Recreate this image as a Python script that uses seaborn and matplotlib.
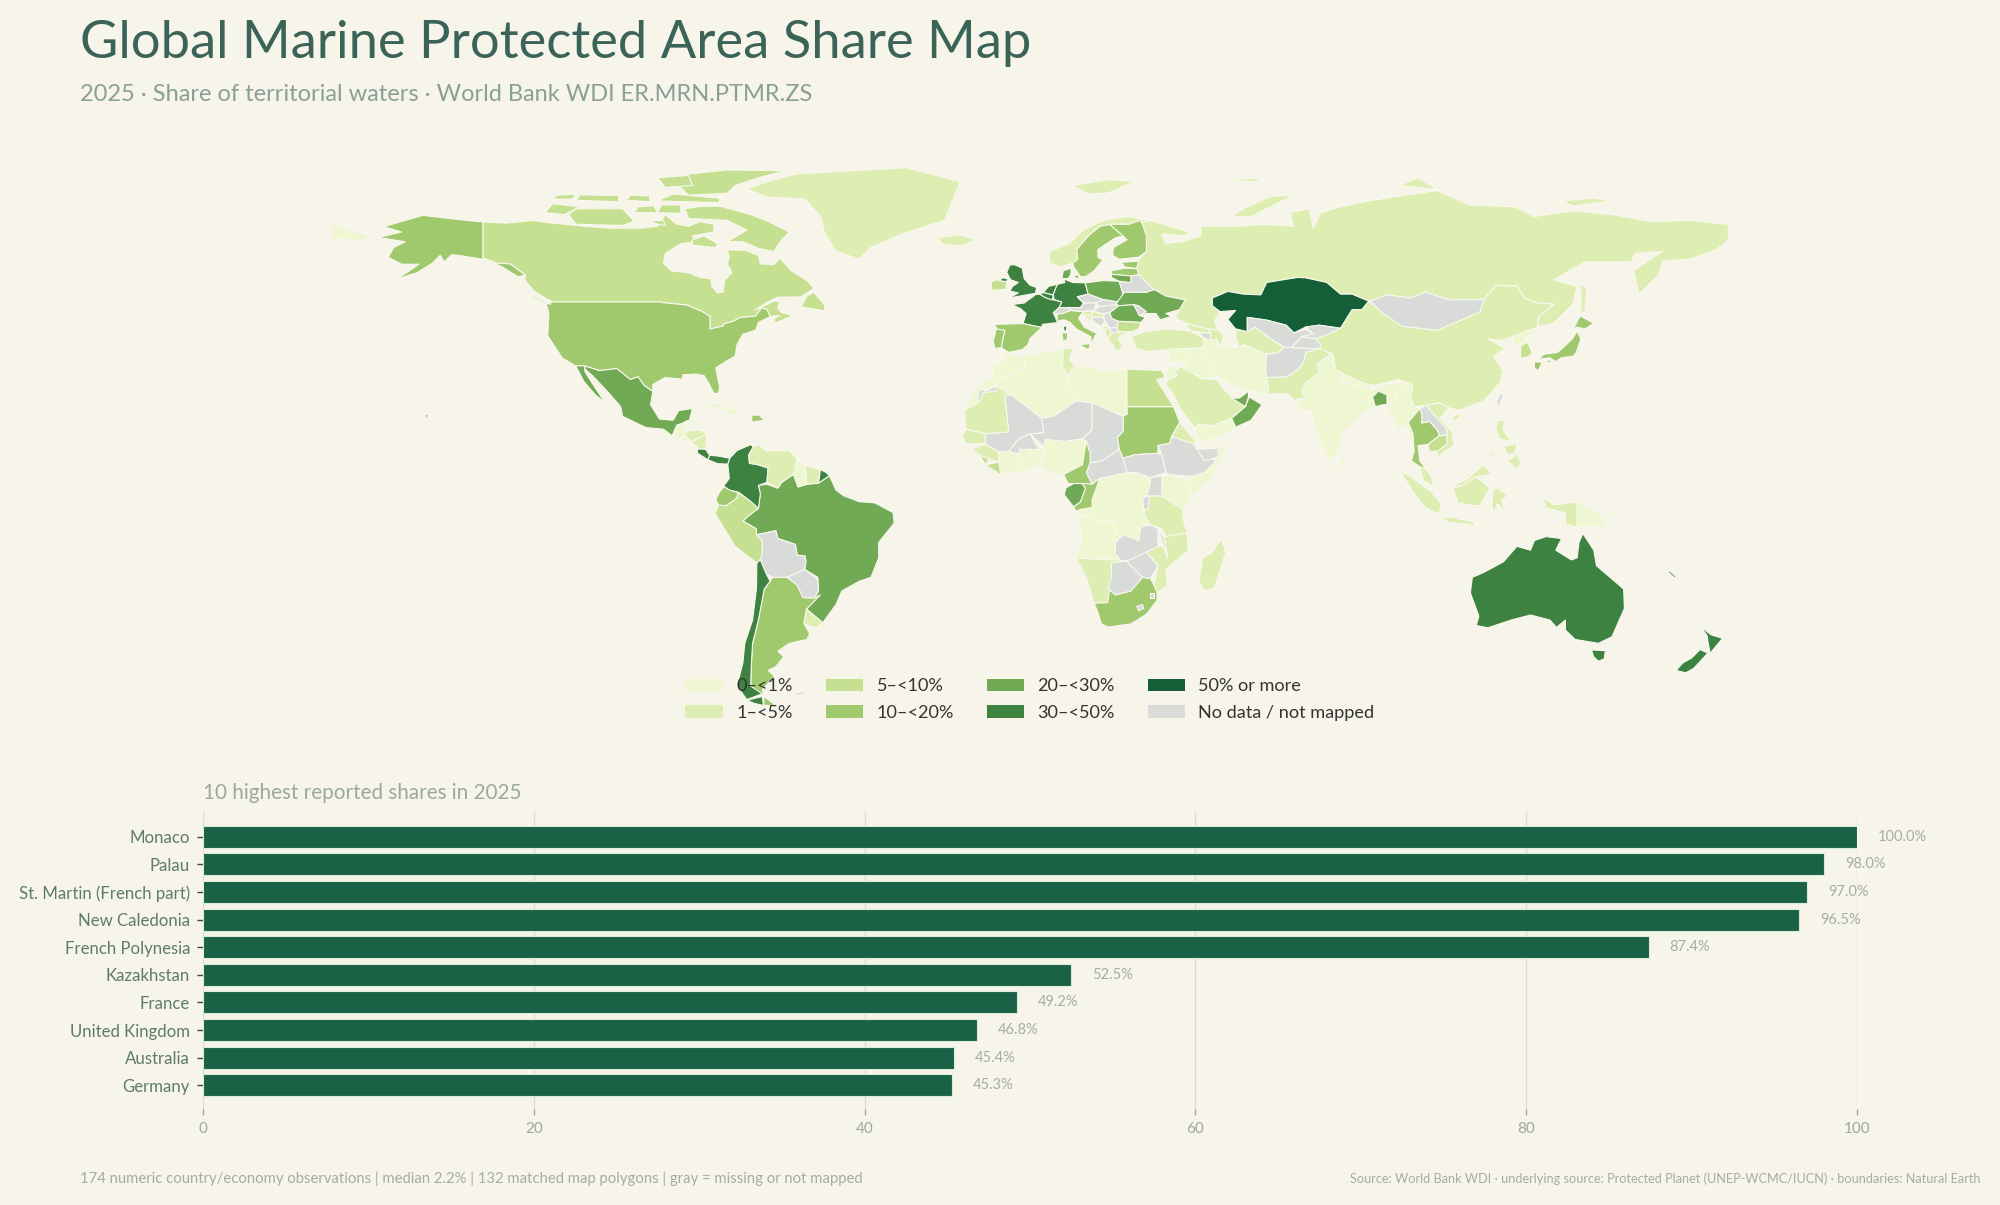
import matplotlib
matplotlib.use("Agg")
import matplotlib.pyplot as plt
from matplotlib.patches import Patch
import seaborn as sns
import pandas as pd

FONT = "Lato"
BG = "#f7f5ea"

# ------------------ bar data ------------------
top_countries = ["Monaco", "Palau", "St. Martin (French part)", "New Caledonia", "French Polynesia",
                 "Kazakhstan", "France", "United Kingdom", "Australia", "Germany"]
top_values = [100.0, 98.0, 97.0, 96.5, 87.4, 52.5, 49.2, 46.8, 45.4, 45.3]
x_ticks = [0, 20, 40, 60, 80, 100]

# ------------------ legend ------------------
bin_labels = ["0–<1%", "1–<5%", "5–<10%", "10–<20%", "20–<30%", "30–<50%", "50% or more", "No data / not mapped"]
bin_colors = ["#eef6d2", "#deeeb3", "#c6e091", "#a0c96e", "#71aa55", "#3d8240", "#145f37", "#d9dbd9"]

# ------------------ map outlines (lon, lat), grouped by share class ------------------
shapes_0_1 = {
 "Morocco": [[(-5.9,35.8),(-2,35),(-1.2,32.5),(-5,30),(-8.7,28.7),(-8.7,27.7),(-12,26),(-13,23.3),(-17,21),(-16,23.5),(-13,27.7),(-9.8,29.5),(-9.5,32.5),(-7,33.8)]],
 "Algeria": [[(-2,35),(8.6,37),(8.3,33),(9.5,30),(12,23.5),(6,19.5),(3,19),(-4.8,25),(-8.7,27.3),(-8.7,28.7),(-5,30),(-1.2,32.5)]],
 "Libya": [[(11.5,32.5),(15,32.2),(20,31),(25,31.7),(25,20),(24,19.5),(16,23),(12,23.5),(9.5,30)]],
 "Nigeria": [[(2.7,6.4),(3.6,11.7),(4,13.5),(9,13),(13.5,13.7),(14.5,13),(13.5,7),(8.7,4.5),(6,4.3)]],
 "Ghana": [[(-2.8,11),(0,11),(1,6),(-3,5)]],
 "Cote": [[(-8,10.3),(-5.5,10.5),(-2.8,9.8),(-3,5),(-7.5,4.4),(-8,7.7)]],
 "TogoBenin": [[(0,11),(2.3,11),(3.6,11.7),(2.7,6.4),(1,6)]],
 "DRC": [[(12.2,-6),(13,-4.5),(16,-4),(16,-2),(18,3.5),(25,5),(27.5,5),(31,3.7),(31,2),(30,-1),(29.3,-4.3),(29.5,-6),(31,-8.5),(28.5,-9),(28,-12.5),(22,-11),(21.8,-7.3),(17.5,-8),(16,-6)]],
 "Angola": [[(11.8,-17),(13.5,-12),(12.2,-6),(16,-6),(17.5,-8),(21.8,-7.3),(22,-11),(24,-11),(22,-13),(22,-16),(23.4,-17.6),(18.5,-17.4)]],
 "Kenya": [[(34,4.2),(36,4.5),(41,3),(41.5,-1.7),(39.5,-4.5),(34,-1)]],
 "Somalia": [[(43,11),(51,12),(47,4),(41.5,-1.7),(41,3),(42,4),(45,5),(48,8)]],
 "Iran": [[(44.5,39.5),(48,39.5),(49,37.5),(53.8,37.3),(55,38),(61,35.5),(60.7,31.5),(61,29.5),(61.6,25.2),(57,26),(54,26.6),(51,28),(48.5,30),(46.5,33),(45,36)]],
 "Iraq": [[(42,37),(45,37),(46.5,33),(48.5,30),(47.5,29.5),(44.5,29.2),(39,32.3),(41,34.5)]],
 "Syria": [[(36,36.8),(42,37),(41,34.5),(38.8,33.4),(36,33),(35.8,35)]],
 "Jordan": [[(35,29.5),(35.5,32.3),(39,32.3),(37,31),(38,30),(36,29.2)]],
 "Yemen": [[(42.5,16.5),(43.5,12.7),(45,12.8),(52,15.5),(53,16.7),(52,19),(47,17),(43.5,17.5)]],
 "India": [[(68,23.7),(71,24.2),(70,26),(71,28),(74.5,31),(74,33),(77.5,35.5),(78,35.5),(78.8,31.5),(81,30.3),(80,28.7),(88,26.4),(89.8,26.8),(92,27.8),(97,28.3),(95,26),(94,24),(93,22),(92,24.5),(89.8,26),(88.3,24.5),(89,22),(87,21.3),(84,18.5),(80.3,15),(80,11),(77.5,8),(75,12),(73,18),(72.7,21),(70.5,20.8),(69,22.3)]],
 "Nepal": [[(80,28.7),(81,30.3),(86,28),(88,27.5),(88,26.4)]],
 "SriLanka": [[(80,9.7),(81.8,7.5),(80.5,6),(79.8,7.5)]],
 "Myanmar": [[(92.3,21),(92,24.5),(93,22),(94,24),(95,26),(97,28.3),(98.7,27.5),(98,24.5),(99,22),(100.5,21.5),(97.5,18),(98.7,15),(99,10.5),(97.8,15),(97,17),(94.5,16),(94,19)]],
 "NKorea": [[(124.3,40),(130.7,42.3),(129.7,41),(127.5,39.7),(128.3,38.6),(126.7,38),(125,38)]],
 "PNG": [[(141,-2.6),(145,-4.5),(147.5,-6),(147.8,-8),(150.7,-10.5),(146,-8.5),(143,-9.2),(141,-9.1)]],
 "Islands": [[(177.3,-18),(178.7,-17.5),(178.5,-18.3)],[(159.5,-8.2),(161,-9.2),(160,-9)],[(148,-5.5),(152,-4.2),(151,-5.8)]],
 "Guatemala": [[(-92.2,14.5),(-91,17.2),(-89.2,17.8),(-89,15.9),(-88.3,15.7),(-89.5,14.2),(-90.5,13.8)]],
 "Belize": [[(-89.2,17.9),(-88.3,18.4),(-88.3,16),(-89.1,15.9)]],
 "ElSalvador": [[(-90,13.7),(-88.7,13.2),(-87.7,13.2),(-88.5,14.2),(-89.5,14.4)]],
 "Guyana": [[(-60.7,5.2),(-61,4.5),(-59.8,1.3),(-57.5,2),(-58,6.8),(-60,8.5)]],
 "Cuba": [[(-85,21.9),(-82,23.1),(-77,21.7),(-74.2,20.2),(-77.7,19.9),(-78,21),(-82,22)]],
 "Chukotka_west": [[(-180,68.9),(-175,67.4),(-170,66),(-172.5,64.4),(-178,65.5),(-180,65)]],
}
shapes_1_5 = {
 "Russia": [[(28,60),(30,62),(29,66),(29,69.5),(31,70),(41,67),(40,66),(34,66.5),(35,64),(40,64.7),(44,66),(44,68.5),(54,68.5),(60,69),(68,68.5),(67,72),(72,73),(73,68),(75,72),(80,73.5),(87,75),(100,77),(105,77.7),(113,74),(125,73.5),(130,71),(140,72.5),(150,71.5),(160,69.7),(170,70),(180,69),(180,65),(177,62.5),(170,60),(163,59.5),(162,56),(157,51),(155.5,57),(163,62),(156,61.5),(155,59.3),(143,59.3),(135,54.7),(141,53),(140,48.5),(135,43.5),(131,42.7),(130.7,42.3),(131,45),(135,48.4),(130.5,48.8),(127.5,50),(125.5,53),(120,53.3),(117,49.6),(108,49.5),(102,51.5),(98,50),(92,50.8),(87.5,49.2),(83,51),(80,51),(76.5,54),(71,55.2),(69,55.3),(61,54),(59.5,50.8),(55,51),(51,51.7),(47,50),(47,48),(49,46.5),(47.5,44),(48.5,41.8),(46,42),(40,43.5),(37.5,45),(38.5,47),(40,49.5),(35,50.5),(32,52.2),(31,53),(28,56),(27.5,57.5)],
            [(142,54),(143.5,52),(143,46),(142,46.7),(142,50)],[(52,71),(57,71),(68,76.5),(62,76.2),(55,73)],[(95,79),(105,78),(100,81)],[(50,80.5),(60,81),(58,80)],[(137,75),(145,75.7),(150,75),(140,73.7)]],
 "China": [[(73.5,39.5),(76,40.3),(80,42.2),(83,47),(85.5,47),(87.3,49.2),(91,46),(96,42.7),(105,41.7),(111.5,44.5),(116,46.5),(117,49.6),(120,53.3),(125.5,53),(127.5,50),(130.5,48.8),(135,48.4),(131,45),(130.7,42.3),(128,41.5),(124.3,40),(121.5,39),(118,39.5),(122.5,37),(119.5,35),(122,31),(121,28),(117,23.5),(110.5,21),(108,21.7),(105.5,23),(102,22.3),(99,22),(98,24.5),(98.7,27.5),(95,29),(89,27.5),(86,28),(81,30.3),(78.8,31.5),(78,35.5),(74.7,37)],
           [(108.7,19.3),(110.5,20.1),(111,19.6),(109.6,18.2)]],
 "Greenland": [[(-73,78.2),(-68,76),(-58,75.5),(-54,71),(-53,67),(-50,62),(-44,60),(-41,63),(-33,66.5),(-22,70),(-20,75),(-18,80),(-32,83.6),(-60,82),(-66,80.5)]],
 "Iceland": [[(-24,65.5),(-18,66.3),(-14,65),(-18,63.4),(-22.5,63.9)]],
 "Svalbard": [[(11,79),(20,80.5),(27,80),(20,77),(15,76.8)]],
 "Norway": [[(5,59),(5,62),(10,64),(14,67.7),(19,70),(25,71),(31,70),(29,69.5),(25.5,69),(21,69),(18,68.5),(15,66),(12,62.5),(12.3,60),(11,59),(8,58)]],
 "Turkey": [[(26.2,40),(29,41.2),(35,42),(41.5,41.5),(44.7,39.7),(44.8,37.2),(36,36.7),(30.5,36.2),(27.3,37)]],
 "Greece": [[(20,39.7),(21,38.3),(22,36.5),(23.2,36.5),(24,38),(22.7,39.5),(23.7,40.5),(26,41.3),(23,41.3),(21,41)],[(23.5,35.5),(26.2,35.2),(24.7,34.9)]],
 "Cyprus": [[(32.3,35),(34.5,35.7),(33.7,34.7)]],
 "Croatia": [[(13.6,45.2),(16.5,46.5),(19,45.8),(19,45),(15.8,45),(16.5,43.8),(18.5,42.5),(15,44.5)]],
 "Slovenia": [[(13.7,46.5),(16.5,46.7),(15.5,45.4),(13.6,45.5)]],
 "Albania": [[(19.4,42),(20.5,42.3),(21,40.7),(20,39.7),(19.4,40.5)]],
 "Montenegro": [[(18.5,42.5),(20,43),(20,42.2),(19.3,41.9)]],
 "Georgia": [[(40,43.5),(46,42),(46.5,41),(41.5,41.5)]],
 "Azerbaijan": [[(46,42),(48.5,41.8),(50,40.3),(49,37.5),(48,39.5),(46.5,39),(45,41)]],
 "Turkmenistan": [[(53,42),(56,41.3),(58,42.5),(62,39.5),(65.5,37.3),(64,36),(61,35.5),(55,38),(53.8,37.3),(53,40)]],
 "Pakistan": [[(61,29.5),(66.3,29.7),(69,31.5),(70.5,33.5),(71,36),(74.7,37),(77.5,35.5),(74,33),(74.5,31),(71,28),(70,26),(71,24.2),(68,23.7),(66.5,25.3),(61.6,25.2)]],
 "Saudi": [[(34.8,28),(37,25),(39,21),(42.5,16.5),(43.5,17.5),(47,17),(52,19),(55.5,22),(52,24.5),(50,26.5),(48,29),(44.5,29.2),(39,32.3),(37,31),(38,30),(36,29.2)]],
 "Vietnam": [[(102,22.3),(105.5,23),(108,21.7),(105.7,19),(108.8,15.5),(109.3,12),(106.7,10.3),(105,8.7),(105,10.5),(107.5,12.4),(107.5,14.7),(107.5,16),(105,19)]],
 "Malaysia": [[(100.5,6.5),(102,6),(103.5,4),(104,1.5),(101.5,2.8)],[(109,1.5),(113,3.5),(116.7,7),(119,5),(117.5,4.2),(115,4),(111,1.5)]],
 "Indonesia": [[(95.3,5.6),(98,4),(103.5,0),(106,-3),(105.5,-5.8),(102,-4),(99,-0.5)],[(105.5,-6.5),(108.5,-6.5),(114.5,-7.7),(114.5,-8.6),(108,-7.8)],[(109,1),(111,1.5),(115,4),(118.5,1),(116,-3.5),(114,-3.5),(110.3,-2.8)],[(119.5,0.8),(125,1.5),(121,0.5),(123.3,-1),(121.5,-2),(122.5,-5),(120.5,-3),(119.5,-5.5),(119,-3)],[(131,-0.8),(135,-3.3),(141,-2.6),(141,-9.1),(138,-8.3),(138,-5.5),(133,-4),(132.7,-2.8)]],
 "Philippines": [[(120.5,18.5),(122.2,18.4),(122,16),(124,13),(121,13.7),(120,16)],[(122,7),(125.5,9.8),(126.5,7.5),(125.5,5.8),(123.5,7.6)],[(122,11.8),(125.5,12.5),(125,10),(123,9.5)],[(117.2,8.4),(119.5,11),(119.5,10),(118,8.5)]],
 "Mauritania": [[(-17,21),(-13,23.3),(-12,26),(-8.7,27.3),(-4.8,25),(-6.5,25),(-5.5,15.5),(-11.5,15),(-16.5,16.2)]],
 "Senegal": [[(-16.5,16.2),(-11.5,15),(-11.5,12.5),(-16.7,12.4),(-17.5,14.7)]],
 "Guinea": [[(-15,11),(-11.5,12.3),(-8,10.3),(-8,7.7),(-10.5,8.5),(-13,9.5)]],
 "Tunisia": [[(8.6,37),(11,37),(10.2,34),(11.5,32.5),(9.5,30),(8.3,33)]],
 "Eritrea": [[(36.5,14.3),(38.6,18),(43,12.7),(42,12.5)]],
 "Tanzania": [[(30,-1),(34,-1),(39.5,-4.5),(39.5,-7),(40.5,-10.5),(35,-11.5),(34,-9.5),(31,-8.5),(29.5,-6)]],
 "Mozambique": [[(35,-11.5),(40.5,-10.5),(40.8,-15),(35,-20),(35.5,-24),(32.8,-26),(32,-24),(33,-19),(30,-15.5),(33,-14),(34.5,-14),(35.5,-17),(35,-14.5),(34.5,-11.5)]],
 "Namibia": [[(11.8,-17),(18.5,-17.4),(23.4,-17.6),(25,-17.8),(21,-18.3),(21,-22),(20,-28.5),(16.5,-28.6),(14.5,-22)]],
 "Madagascar": [[(49.3,-12),(50.5,-15.5),(47.5,-24.8),(45,-25.5),(43.5,-23),(44.5,-17),(47,-15.5)]],
 "Honduras": [[(-89.2,14.4),(-88.3,15.7),(-85,16),(-83.2,15),(-85,14),(-87.3,13)]],
 "Nicaragua": [[(-87.3,13),(-85,14),(-83.2,15),(-83.6,11),(-85.6,11.2)]],
 "Venezuela": [[(-71.3,11.7),(-72.5,9.5),(-72.3,7.4),(-70,7),(-67.5,6.2),(-67.8,2.5),(-65,1),(-64,2.5),(-61,4.5),(-60.7,5.2),(-60,8.5),(-62,10.7),(-68,10.6),(-70,12.2)]],
 "Suriname": [[(-58,6.8),(-57.5,2),(-54.5,2.3),(-54,5.8)]],
 "Uruguay": [[(-57.6,-30.2),(-53.4,-33.7),(-55,-35),(-58.3,-34)]],
}
shapes_5_10 = {
 "Canada": [[(-141,69.6),(-135,69.3),(-128,70),(-125,69.5),(-115,68.5),(-108,68),(-100,68),(-96,68.5),(-94,71.5),(-91,69),(-88,68.5),(-85,69.7),(-81.5,69),(-81.5,67),(-87,66),(-86,64.5),(-90,64),(-94,61.5),(-94.5,59),(-92.5,57),(-88,56.5),(-85,55.3),(-82.3,55),(-82,53),(-80.5,51.3),(-79,51.5),(-78.8,54.5),(-76.8,56.5),(-78,58.8),(-77.5,60.5),(-78,62.4),(-73.5,62.3),(-70,61),(-69.5,58.8),(-66,58.6),(-64.5,60.3),(-61.5,57),(-57.5,54.5),(-55.7,52.5),(-59,50.3),(-65,50.2),(-68,48.8),(-71,46.8),(-66,49.2),(-64.5,49),(-65,47.5),(-64,46.2),(-61,45.5),(-65.5,43.6),(-66.2,44.5),(-64.5,45.5),(-67,45.2),(-67.8,47.1),(-69.2,47.4),(-70.8,45.3),(-74.7,45),(-76.5,44),(-79,43.3),(-79,42.8),(-82.5,42),(-82.5,45.3),(-84.5,46.5),(-88.5,48.2),(-94.6,48.8),(-95.2,49),(-123,49),(-125,50),(-128,52),(-130.3,54.7),(-130,55.9),(-134,58.8),(-137.5,59),(-141,60.3)],
            [(-85,73.6),(-80,73.7),(-72,71.5),(-68,70),(-62,67),(-64,65),(-66,62),(-70,62.8),(-74,64.5),(-78,64.5),(-73,67.5),(-78,70),(-88,70.5),(-89,73)],
            [(-119,71.5),(-117,69),(-105,68.7),(-102,69.8),(-105,73),(-117,73)],[(-125,72),(-120,71.5),(-116,73.5),(-123,74.3)],
            [(-92,81.5),(-78,83),(-63,82.8),(-70,81),(-76,79),(-78,77),(-88,76.5),(-90,78.5)],[(-96,81),(-88,81.6),(-87,79),(-94,78.5)],
            [(-96,75),(-80,74.6),(-80,75.7),(-92,76.8)],[(-117,75.2),(-106,74.8),(-106,76.4),(-116,76.6)],[(-123,75.5),(-118,75.5),(-117,76.8),(-122,76.5)],[(-104,75.2),(-98,74.8),(-98,76.3),(-103,76.5)],
            [(-87,63.6),(-81,63),(-80.5,64),(-84,66),(-87,65)],[(-96,69),(-94,68.7),(-94.5,70),(-98,70)],[(-96,72),(-90,71.8),(-90,74),(-95,74)],
            [(-59,47.7),(-53,46.7),(-52.8,48),(-55.7,51.5),(-57.5,50.5)],[(-128.3,50.7),(-123.5,48.4),(-125,48.7),(-128,50)],[(-102,72),(-96,72),(-97,73.8),(-101,73.5)]],
 "Egypt": [[(25,31.7),(34,31.3),(34.9,29.5),(32.6,29),(35.8,23.9),(37,22),(25,22)]],
 "Ireland": [[(-10,52),(-6.2,52.2),(-6,54.2),(-8,54.5),(-7,55.2),(-10,54.2)]],
 "Bulgaria": [[(22.7,44),(28.6,43.7),(28,42),(26,41.3),(23,41.3),(22.4,42.3)]],
 "Peru": [[(-80.2,-3.4),(-78.3,-3.5),(-75.5,-1.5),(-75.3,-0.1),(-72,-2.4),(-70,-4.2),(-73,-6.5),(-74,-7.5),(-70.5,-9.5),(-70.5,-11),(-69,-12.5),(-69,-16),(-69.5,-17.5),(-70.4,-18.3),(-76,-14),(-81.2,-5.5)]],
 "Cambodia": [[(102.5,12.2),(103,10.5),(105,10.5),(107.5,12.4),(107.5,14.7),(105.5,14.5)]],
 "SKorea": [[(126.5,37.7),(128.3,38.6),(129.4,36),(128.5,34.8),(126.4,34.5)]],
 "WestAfricaSmall": [[(-13,9.5),(-10.5,8.5),(-11.5,7)],[(-11.5,7),(-8,7.7),(-7.5,4.4)]],
}
shapes_10_20 = {
 "USA": [[(-124.7,48.4),(-123,49),(-95.2,49),(-94.6,48.8),(-88.5,48.2),(-84.5,46.5),(-82.5,45.3),(-82.5,42),(-79,42.8),(-79,43.3),(-76.5,44),(-74.7,45),(-70.8,45.3),(-69.2,47.4),(-67.8,47.1),(-67,45.2),(-70,43.7),(-70.7,41.7),(-74,40.7),(-75.5,38),(-76,35),(-78,33.9),(-81,32),(-80,27),(-80.3,25.3),(-81.5,25.5),(-82.8,28),(-84,30),(-86,30.4),(-89.5,30.2),(-89.5,29.1),(-94,29.5),(-97.2,27.7),(-97.2,25.9),(-99.5,27.5),(-101,29.7),(-103,29),(-106.5,31.8),(-111,31.3),(-114.8,32.5),(-117.1,32.5),(-120.5,34.5),(-122.5,37.5),(-124.3,40.3),(-124,46.2)],
         [(-141,69.6),(-141,60.3),(-137.5,59),(-134,58.8),(-130,55.9),(-132,55.5),(-136,58),(-140,59.8),(-146,60.8),(-149,61.2),(-151,59.3),(-152,61),(-154,59),(-158,56.5),(-163.5,54.8),(-161,56.3),(-157.5,58.7),(-162,58.7),(-165.4,60.5),(-164,63),(-161,64.5),(-168,65.6),(-162,67),(-166.5,68.4),(-156.5,71.3),(-148,70.3)],
         [(-156,19.7),(-155.5,20.2),(-155,19.6),(-155.6,19)]],
 "DominicanRep": [[(-71.7,18),(-68.4,18.5),(-69.8,19.8),(-71.7,19.8)]],
 "Ecuador": [[(-78.9,1.4),(-77.5,0.5),(-75.3,-0.1),(-75.5,-1.5),(-78.3,-3.5),(-80.2,-3.4),(-81,-2),(-80,0)]],
 "Argentina": [[(-66.3,-22),(-62.6,-22),(-60,-24),(-58.5,-27.2),(-55.5,-27.3),(-54,-26.5),(-57.6,-30.2),(-58.2,-34),(-56.8,-36.5),(-57.5,-38),(-62,-39),(-65,-41),(-63.5,-42.5),(-65.5,-45),(-67.5,-46),(-65.8,-47.5),(-69,-51),(-68.5,-52.3),(-72,-52),(-72,-50),(-71.8,-44),(-71.5,-39),(-70,-33),(-68.5,-25),(-67,-23)],[(-68.6,-52.7),(-65.5,-55),(-68.6,-55)]],
 "Spain": [[(-9.2,43.2),(-1.8,43.4),(3,42.4),(0,39.5),(-0.5,38),(-2,36.7),(-5.5,36),(-7.4,37.2),(-7,39.5),(-6.5,41.5),(-8.5,42)]],
 "Portugal": [[(-8.7,42),(-6.5,41.7),(-7,39.5),(-7.4,37.2),(-9,37),(-9.5,38.8)]],
 "Italy": [[(7,44),(7,45.9),(10.5,46.8),(13.7,46.5),(12.5,44.8),(14,42.5),(18.5,40.2),(16.9,40.5),(15.8,38),(15.7,40),(12,42),(10.2,43.8),(8.8,44.4)],[(12.5,38),(15.6,38.2),(15.1,36.7)],[(8.2,41),(9.7,41),(9.6,39.2),(8.5,39)]],
 "Sweden": [[(11,59),(12.3,60),(12,62.5),(15,66),(18,68.5),(20.5,69),(24,66),(22,65.5),(17.5,62.5),(17.5,60.5),(18.8,59.8),(16.5,57),(14.3,55.5),(13,55.5),(11.3,58)]],
 "Finland": [[(20.5,69),(25.5,69),(28.5,70),(29,69),(30,66),(30,62),(28,60.5),(23,60),(21.3,61),(21.5,63),(25,65),(24,66)]],
 "Estonia": [[(23.5,59.2),(28,59.5),(27.5,57.6),(24.5,58)]],
 "Latvia": [[(21,57),(24.3,57.7),(27.5,57.6),(28,56),(26,55.7),(21,56.1)]],
 "Japan": [[(131,34.2),(132.5,35.5),(136,36),(137.5,37.3),(139.8,39.5),(141,41.4),(142,39.5),(140.8,36),(140,35),(137,34.6),(135.5,33.6),(134,34.6)],[(140,42),(141.8,45.4),(145.3,43.5),(143,42),(141,42.5)],[(130,33.5),(132,33.5),(131,31.2),(130,32)],[(132.5,33.5),(134.5,34.2),(134,33.3)]],
 "Thailand": [[(100.5,21.5),(97.5,18),(98.7,15),(99,10.5),(98.3,8),(100.5,6.5),(102,6),(100.5,8),(100,12),(102.5,12.2),(105.5,14.5),(105,16),(103,18.2),(101,17.8),(101,20)]],
 "Sudan": [[(25,22),(37,22),(38.6,18),(36.5,14.3),(36,12.5),(33,12),(33,10),(27,9.6),(24,8.7),(23,11),(22.5,14),(24,15.7),(24,20),(25,20)]],
 "Cameroon": [[(8.7,4.5),(13.5,7),(14.5,13),(15.5,10),(15.5,7.5),(14.5,5),(16,2),(9.8,2.2)]],
 "Congo": [[(13.3,2.2),(16,2),(18,3.5),(16,-2),(16,-4),(13,-4.5),(11.9,-5),(11.2,-3.8),(13,-2.5),(14.3,1)]],
 "SouthAfrica": [[(16.5,-28.6),(20,-28.5),(20,-24.7),(22,-26.5),(26,-25.5),(29,-22),(31,-22.3),(32,-24),(32.8,-26),(32.7,-28),(30,-31.5),(26,-34),(20,-34.8),(18.4,-34),(17.5,-31)]],
}
shapes_20_30 = {
 "Mexico": [[(-114.8,32.5),(-111,31.3),(-106.5,31.8),(-103,29),(-101,29.7),(-99.5,27.5),(-97.2,25.9),(-97.8,22.5),(-95.5,18.8),(-92,18.5),(-90.5,21),(-87,21.5),(-87.8,18.5),(-89,18),(-89.2,17.8),(-91,17.2),(-92.2,14.5),(-94.5,16.2),(-99,16.6),(-105,19.5),(-105.5,22),(-109,26),(-112.8,30),(-114.7,31.7)],
            [(-117.1,32.5),(-114.8,32.5),(-114.7,31),(-112.5,27.5),(-109.5,23),(-112,25),(-115,28.5),(-116,30.5)]],
 "Brazil": [[(-51.7,4.2),(-54.5,2.3),(-57.5,2),(-59.8,1.3),(-60,5.2),(-64,2.5),(-65,1),(-67.8,2),(-70,1.7),(-69.5,-0.5),(-70,-4.2),(-73,-6.5),(-74,-7.5),(-70.5,-9.5),(-70.5,-11),(-65.5,-10),(-65,-12),(-60.5,-13.5),(-60,-16.3),(-58,-16.5),(-58,-20),(-54.7,-22),(-54.5,-25.5),(-57.6,-30.2),(-53.4,-33.7),(-50,-29),(-48.5,-25.5),(-44,-23),(-41,-22),(-39,-17),(-39,-13),(-35,-8),(-35.3,-5.3),(-40,-2.8),(-44,-2.5),(-48,-1),(-50,0.5)]],
 "Poland": [[(14.2,53.9),(19,54.5),(23,54.3),(24,51),(22.5,49),(18.8,49.6),(15,51)]],
 "Lithuania": [[(21,56.1),(26,55.7),(26,54),(23,54.3),(21,55.3)]],
 "Denmark": [[(8.2,55),(8.6,57),(10.6,57.7),(10.5,56),(9.8,55)],[(11,55.5),(12.5,56),(12.5,55)]],
 "Ukraine": [[(24,51.5),(30,51.5),(32,52.2),(35,50.5),(40,49.5),(38.5,47),(35,46),(36.5,45.2),(33.5,44.4),(32.5,46),(30,46),(28.2,45.5),(28,48),(26.5,48.2),(22.8,48),(22.2,48.5),(22.5,49)]],
 "Romania": [[(20.5,46.2),(22.8,48),(26.7,48.3),(28.2,45.5),(29.7,45),(28.6,43.7),(22.7,44),(21,44.8)]],
 "Oman": [[(55.5,22),(52,19),(53,16.7),(57,18.5),(59.8,22.5),(56.5,24.5)]],
 "UAE": [[(52,24.2),(55.5,22),(56.3,24.5),(56.3,26),(54,24.2)]],
 "Bangladesh": [[(88.3,24.5),(89.8,26),(92,25),(92,22.5),(91,22.5),(89,22)]],
 "Gabon": [[(9.3,1.1),(11.3,2.2),(13.3,2.2),(14.3,1),(13,-2.5),(11.2,-3.8),(8.8,-0.7)]],
}
shapes_30_50 = {
 "Australia": [[(114,-22),(113.5,-26),(115.7,-32),(115,-34.4),(118,-35),(124,-33),(129,-31.7),(134,-33),(135.7,-34.9),(138,-33),(138,-35.6),(140.5,-38),(146.5,-39),(150,-37.3),(153.2,-30),(153,-25),(149.5,-22),(146,-19),(145.3,-15),(142.5,-10.7),(141.5,-13),(141,-17),(139.5,-17.5),(135.5,-15),(137,-12),(133,-11.5),(130,-12.5),(129,-15),(125.5,-14),(122,-18),(117,-20.7)],
               [(144.7,-40.7),(148.3,-40.9),(148,-43),(146.5,-43.6),(145.3,-42.5)]],
 "NewZealand": [[(172.7,-34.5),(175.5,-36.8),(178.5,-37.7),(177,-39.5),(175.3,-41.6),(174.8,-39),(174.5,-37)],[(172.7,-40.6),(174.7,-41.5),(172.7,-43.7),(171,-45.5),(169,-46.6),(166.5,-46),(168.3,-44),(170.5,-42.8)]],
 "France": [[(-4.7,48.3),(-1.5,48.7),(1.5,50.9),(2.5,51),(4.2,50),(8.2,49),(7.5,47.5),(6,46.2),(7,44),(7.5,43.7),(3.2,43.2),(3,42.4),(-1.8,43.4),(-1,46),(-2.5,47.3)],[(8.6,42.5),(9.5,43),(9.4,41.5),(8.8,41.5)],[(-54,5.8),(-54.5,2.3),(-51.7,4.2),(-52.5,5)]],
 "UK": [[(-5.5,50),(1.4,51.2),(1.7,52.7),(0,53.3),(-1.5,55),(-2,57.7),(-4,58.6),(-5.2,58.5),(-6,56.6),(-5,54.7),(-3,54),(-4.5,53),(-5.2,51.8),(-3,51.3)],[(-8,54.5),(-6,54.2),(-5.8,55),(-7,55.2)]],
 "Germany": [[(6,51),(7,53.5),(9,54),(8.7,54.9),(11,54),(14.2,53.9),(15,51),(12.2,50.3),(13.8,48.7),(13,47.5),(7.5,47.5),(8.2,49),(6.2,49.6)]],
 "Netherlands": [[(3.4,51.4),(4.8,53),(7,53.5),(6,51),(5.8,50.8)]],
 "Belgium": [[(2.5,51),(3.4,51.4),(5.8,50.8),(6,50.5),(5.7,49.5),(4.2,50)]],
 "Colombia": [[(-77.4,8.7),(-75.5,10.7),(-72,12.2),(-71.3,11.7),(-72.5,9.5),(-72.3,7.4),(-70,7),(-67.5,6.2),(-67.8,2.5),(-70,1.7),(-69.5,-0.5),(-70,-4.2),(-72,-2.4),(-75,-0.1),(-77.5,0.5),(-79,1.5),(-77.5,3.5),(-77.9,7.2)]],
 "CostaRica": [[(-85.7,11.1),(-83.6,11),(-82.6,9.5),(-83,8.3),(-85.7,10)]],
 "Panama": [[(-83,8.3),(-82.6,9.5),(-80,9.2),(-77.4,8.7),(-77.9,7.2),(-80.5,7.3),(-81.5,7.7)]],
 "Chile": [[(-70.4,-18.3),(-69.5,-17.5),(-68,-21),(-67,-23),(-68.5,-25),(-70,-33),(-71.5,-39),(-71.8,-44),(-72,-50),(-69,-52),(-73,-53.5),(-75.5,-50),(-74,-44),(-73.5,-39),(-71.5,-33),(-70.5,-25)],[(-69,-52.7),(-68.7,-55),(-71,-54.5),(-73,-53.7)]],
}
shapes_50_up = {
 "Kazakhstan": [[(47,50),(51,51.7),(55,51),(59.5,50.8),(61,54),(69,55.3),(71,55.2),(76.5,54),(80,51),(83,51),(87.3,49.2),(85.5,47),(83,47),(80,42.2),(74.5,43),(71,42.5),(68,41),(66,43),(61,44.3),(56,45),(56,41.3),(53,42),(51,44.5),(53,46.8),(49,46.5),(47,48)]],
 "NewCaledonia": [[(164,-20.2),(165,-20.5),(167,-22.3),(166,-22)]],
}
shapes_missing = {
 "Mongolia": [[(87.7,49.2),(92,50.8),(98,50),(102,51.5),(108,49.5),(117,49.6),(116,46.5),(111.5,44.5),(105,41.7),(96,42.7),(91,46)]],
 "Uzbekistan": [[(56,45),(61,44.3),(66,43),(68,41),(71,42),(73,40.8),(70,40),(67.5,37.3),(65.5,37.3),(62,39.5),(58,42.5),(56,41.3)]],
 "Kyrgyzstan": [[(71,42.5),(74.5,43),(80,42.2),(76,40.3),(73.5,39.5),(70,40),(73,40.8)]],
 "Tajikistan": [[(70,40),(73.5,39.5),(75,38),(74.7,37),(71.5,37),(68,37.2),(67.5,37.3)]],
 "Afghanistan": [[(61,35.5),(64,36),(65.5,37.3),(68,37.2),(71.5,37),(74.7,37),(71,36),(70.5,33.5),(69,31.5),(66.3,29.7),(61,29.5),(60.7,31.5)]],
 "Laos": [[(100.5,21.5),(102,22.3),(105,19),(107.5,16),(107.5,14.7),(105.5,14.5),(105,16),(103,18.2),(101,17.8),(101,20)]],
 "Taiwan": [[(120.2,23),(121,25.2),(122,25),(120.9,22)]],
 "Armenia": [[(43.5,41),(46.5,41),(46.5,39),(44.8,39.7)]],
 "Belarus": [[(23,54.3),(26,54),(26,55.7),(28,56),(31,53),(32,52.2),(30,51.5),(24,51.5),(24,51)]],
 "Switzerland": [[(6,46.2),(7.5,47.5),(9.6,47.5),(10.5,46.8),(8.5,46),(7,45.9)]],
 "Austria": [[(9.6,47.5),(13,47.5),(13.8,48.7),(17,48.7),(16.5,46.9),(13.7,46.5),(10.5,46.8)]],
 "Czechia": [[(12.2,50.3),(15,51),(18.8,49.6),(17,48.7),(13.8,48.7)]],
 "Slovakia": [[(17,48.7),(18.8,49.6),(22.5,49),(22,48.3),(18,47.8)]],
 "Hungary": [[(16.5,46.9),(18,47.8),(22,48.3),(22.8,48),(20.5,46.2),(18.8,45.9),(16.5,46.5)]],
 "Moldova": [[(26.7,48.3),(28,48),(30,46.5),(28.2,45.5)]],
 "Serbia": [[(18.9,45.9),(20.5,46.2),(21,44.8),(22.7,44),(22.4,42.3),(20.5,42.3),(19.2,44.3)]],
 "Bosnia": [[(15.8,45),(19,45),(19.2,44),(18.5,42.6),(16.5,43.8)]],
 "NMacedonia": [[(20.5,42.3),(22.4,42.3),(23,41.3),(21,41)]],
 "WSaharaStrip": [[(-13,26.5),(-11.5,26),(-8.7,27.3),(-8.7,26),(-12,25.6),(-13,23.3),(-13.5,24)]],
 "Mali": [[(-12,14.7),(-11.5,12.3),(-8,10.3),(-5.5,10.5),(-3,13.5),(0,15),(3.5,15.3),(3,19),(-4.8,25),(-6.5,25),(-5.5,15.5),(-11.5,15)]],
 "Burkina": [[(-5.5,10.5),(-2.8,9.8),(2.3,11),(0,15),(-3,13.5)]],
 "Niger": [[(0,15),(3.6,11.7),(4,13.5),(9,13),(13.5,13.7),(16,16),(16,23),(12,23.5),(6,19.5),(3,19),(3.5,15.3)]],
 "Chad": [[(14.5,13),(13.5,13.7),(16,16),(16,23),(24,19.5),(24,15.7),(22.5,14),(23,11),(18.6,8),(15.5,7.5),(15.5,10)]],
 "CAR": [[(15.5,7.5),(18.6,8),(23,11),(24,8.7),(27.5,5),(25,5),(18,3.5),(16,2),(14.5,5)]],
 "SouthSudan": [[(24,8.7),(27,9.6),(33,10),(34,9.5),(35,5),(31,3.7),(27.5,5),(25,5)]],
 "Ethiopia": [[(36,12.5),(36.5,14.3),(42,12.5),(43,11),(48,8),(45,5),(42,4),(36,4.5),(35,5),(34,9.5),(33,12)]],
 "Somaliland": [[(43,11),(48.5,11.3),(48.5,9),(45,8)]],
 "Uganda": [[(31,3.7),(34,4.2),(34,-1),(30,-1),(31,2)]],
 "RwandaBurundi": [[(29,-1.3),(30.8,-1),(30.5,-4.5),(29.3,-4.3)]],
 "Zambia": [[(22,-13),(24,-11),(28,-12.5),(28.5,-9),(31,-8.5),(33,-9.5),(33,-14),(30,-15.5),(25,-17.8),(23.4,-17.6),(22,-16)]],
 "Malawi": [[(33,-9.5),(34.5,-11.5),(35,-14.5),(35.5,-17),(34.5,-14)]],
 "Zimbabwe": [[(25,-17.8),(30,-15.5),(33,-19),(31,-22.3),(29,-22),(25.5,-18.5)]],
 "Botswana": [[(21,-18.3),(25,-17.8),(25.5,-18.5),(29,-22),(26,-25.5),(22,-26.5),(20,-24.7),(21,-22)]],
 "Lesotho": [[(27.5,-29.5),(29,-29),(29.3,-30),(28,-30.6)]],
 "Eswatini": [[(31,-26),(32,-26),(32,-27.3),(31,-27.3)]],
 "Bolivia": [[(-69.5,-17.5),(-69,-16),(-69,-12.5),(-70.5,-11),(-65.5,-10),(-65,-12),(-60.5,-13.5),(-60,-16.3),(-58,-16.5),(-57.7,-18),(-58.2,-20),(-62.6,-22),(-66.3,-22),(-68,-21)]],
 "Paraguay": [[(-62.6,-22),(-58.2,-20),(-58,-20),(-54.7,-22.5),(-54.5,-25.5),(-55.5,-27.3),(-58.5,-27.2),(-60,-24)]],
 "Falklands": [[(-61,-51.8),(-58,-51.4),(-58.5,-52.3),(-60.5,-52.3)]],
}
class_shapes = [shapes_0_1, shapes_1_5, shapes_5_10, shapes_10_20, shapes_20_30, shapes_30_50, shapes_50_up, shapes_missing]

# ------------------ figure ------------------
sns.set_theme(style="white", rc={"figure.facecolor": BG, "axes.facecolor": "none", "savefig.facecolor": BG})
plt.rcParams["font.family"] = [FONT, "DejaVu Sans"]
W, H = 2000, 1205
fig = plt.figure(figsize=(W / 100, H / 100), dpi=100, facecolor=BG)

def rect(l, t, r, b):
    return [l / W, 1 - b / H, (r - l) / W, (b - t) / H]

# map: plate carree, 3.88 px per degree
PPD, X0, Y0 = 3.88, 1030, 492
lon0, lon1, lat0, lat1 = -180, 180, -60, 85
map_ax = fig.add_axes(rect(X0 + lon0 * PPD, Y0 - lat1 * PPD, X0 + lon1 * PPD, Y0 - lat0 * PPD))
map_ax.set_xlim(lon0, lon1)
map_ax.set_ylim(lat0, lat1)
map_ax.axis("off")

def area(p):
    return abs(sum(p[i][0] * p[(i + 1) % len(p)][1] - p[(i + 1) % len(p)][0] * p[i][1] for i in range(len(p)))) / 2

polys = []
for color, group in zip(bin_colors, class_shapes):
    for parts in group.values():
        for part in parts:
            polys.append((area(part), part, color))
polys.sort(key=lambda t: -t[0])
for i, (_, part, color) in enumerate(polys):
    xs, ys = zip(*part)
    map_ax.fill(xs, ys, facecolor=color, edgecolor="#f9f8ef", linewidth=0.8, zorder=2 + i * 0.001, joinstyle="round")

handles = [Patch(facecolor=c, edgecolor="none", label=l) for c, l in zip(bin_colors, bin_labels)]
fig.legend(handles=handles, ncol=4, loc="center", bbox_to_anchor=(1030 / W, 1 - 699.5 / H), frameon=False,
           fontsize=13.1, labelcolor="#333333", handlelength=2.07, handleheight=0.66, handletextpad=0.72,
           columnspacing=1.81, labelspacing=0.6, borderpad=0, borderaxespad=0)

# bars
bar_ax = fig.add_axes(rect(203, 812, 1857, 1109))
df = pd.DataFrame({"country": top_countries, "share": top_values})
sns.barplot(data=df, y="country", x="share", ax=bar_ax, color="#1a6146", saturation=1, width=0.8,
            edgecolor="#d8ecd8", linewidth=0.8, zorder=3)
bar_ax.set_xlim(0, 100)
bar_ax.set_ylim(9.86, -0.9)
bar_ax.set_xlabel("")
bar_ax.set_ylabel("")
bar_ax.set_xticks(x_ticks)
bar_ax.set_xticklabels([str(t) for t in x_ticks])
for s in bar_ax.spines.values():
    s.set_visible(False)
bar_ax.grid(axis="x", color="#dcdcd2", linewidth=1, zorder=0)
bar_ax.set_axisbelow(True)
bar_ax.tick_params(axis="x", length=4.3, width=1, color="#9aa89f", labelcolor="#9aa89f", labelsize=11, pad=5, bottom=True)
bar_ax.tick_params(axis="y", length=4.3, width=1, color="#444444", labelcolor="#5e7a6e", labelsize=12.1, pad=5, left=True)
for lab in bar_ax.get_xticklabels() + bar_ax.get_yticklabels():
    lab.set_clip_on(False)
for y, v in enumerate(top_values):
    bar_ax.annotate(f"{v:.1f}%", (v, y), xytext=(15, 0), textcoords="offset points", va="center",
                    ha="left", fontsize=10.5, color="#a3aea6", annotation_clip=False, zorder=5)

def put(x, y, s, **kw):
    fig.text(x / W, 1 - y / H, s, va="baseline", **kw)

put(80, 58, "Global Marine Protected Area Share Map", fontsize=37.8, color="#3b6358")
put(80, 101, "2025 · Share of territorial waters · World Bank WDI ER.MRN.PTMR.ZS", fontsize=17, color="#8a9f96")
put(203, 799, "10 highest reported shares in 2025", fontsize=14.9, color="#9aa89f")
put(80, 1183, "174 numeric country/economy observations | median 2.2% | 132 matched map polygons | gray = missing or not mapped", fontsize=10.7, color="#a5aca5")
put(1980, 1183, "Source: World Bank WDI · underlying source: Protected Planet (UNEP-WCMC/IUCN) · boundaries: Natural Earth", fontsize=9.15, color="#a5aca5", ha="right")

fig.savefig("out.png", dpi=100, facecolor=BG)
